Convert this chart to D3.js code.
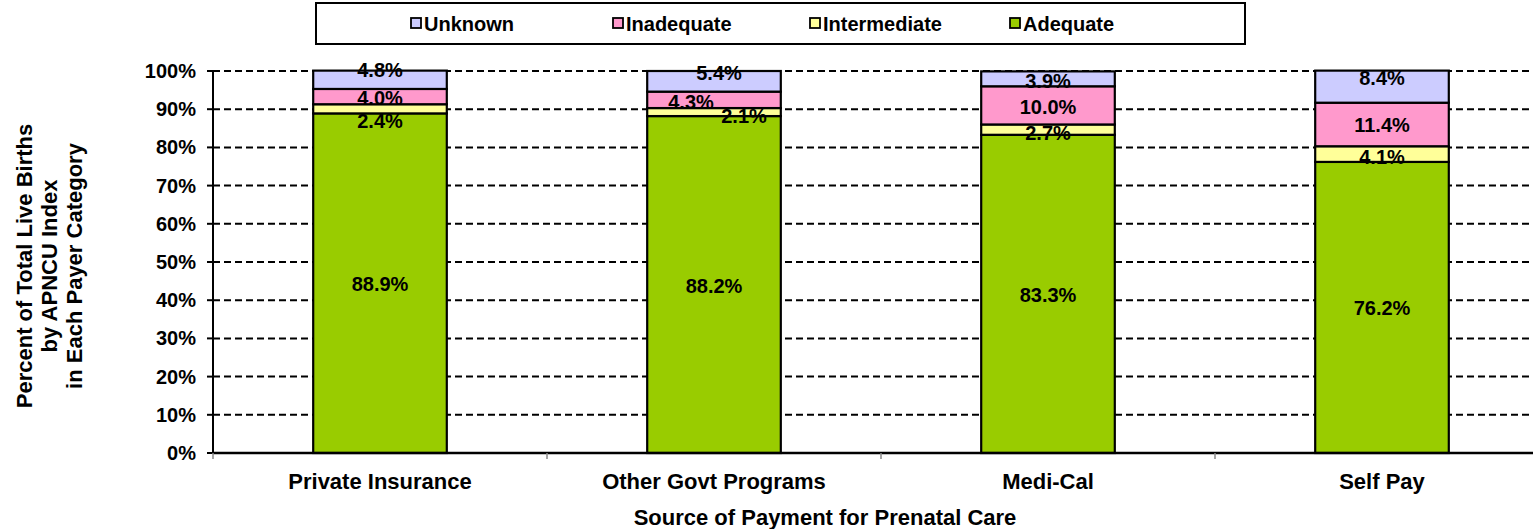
<!DOCTYPE html>
<html>
<head>
<meta charset="utf-8">
<script src="https://cdn.jsdelivr.net/npm/d3@7"></script>
<style>
  html, body { margin: 0; padding: 0; background: #fff; }
  svg { display: block; }
  text { font-family: "Liberation Sans", Arial, sans-serif; font-weight: bold; fill: #000; }
</style>
</head>
<body>
<svg id="chart" width="1533" height="529"></svg>
<script>
// ---- Data ----
const categories = ["Private Insurance", "Other Govt Programs", "Medi-Cal", "Self Pay"];
const seriesNames = ["Adequate", "Intermediate", "Inadequate", "Unknown"];
const adequate = [88.9, 88.2, 83.3, 76.2];
const intermediate = [2.4, 2.1, 2.7, 4.1];
const inadequate = [4.0, 4.3, 10.0, 11.4];
const unknown = [4.8, 5.4, 3.9, 8.4];
const yTicks = [0, 10, 20, 30, 40, 50, 60, 70, 80, 90, 100];
const legendOrder = ["Unknown", "Inadequate", "Intermediate", "Adequate"];
const yTitleLines = ["Percent of Total Live Births", "by APNCU Index", "in Each Payer Category"];
const xTitle = "Source of Payment for Prenatal Care";

// ---- Styling / layout ----
const colors = { Adequate: "#99CC00", Intermediate: "#FFFF99", Inadequate: "#FF99CC", Unknown: "#CCCCFF" };
// Excel-style manual label displacement (layout only)
const labelNudge = {
  "Private Insurance|Unknown": [0, -11],
  "Private Insurance|Intermediate": [0, 11],
  "Other Govt Programs|Unknown": [5, -9],
  "Other Govt Programs|Inadequate": [-23, 1],
  "Other Govt Programs|Intermediate": [30, 3],
  "Medi-Cal|Unknown": [0, 1],
  "Medi-Cal|Inadequate": [0, 1],
  "Medi-Cal|Intermediate": [0, 2],
  "Self Pay|Unknown": [0, -10],
  "Self Pay|Intermediate": [0, 2]
};

const W = 1533, H = 529;
const plotLeft = 213, plotRight = 1549, plotTop = 71, plotBottom = 453;

const svg = d3.select("#chart");

const valuesBySeries = { Adequate: adequate, Intermediate: intermediate, Inadequate: inadequate, Unknown: unknown };
const rows = categories.map((c, i) => {
  const r = { category: c };
  seriesNames.forEach(s => r[s] = valuesBySeries[s][i]);
  return r;
});

const x = d3.scaleBand().domain(categories).range([plotLeft, plotRight]).paddingInner(0.6).paddingOuter(0.3);
const y = d3.scaleLinear().domain([0, 100]).range([plotBottom, plotTop]);
const step = x.step();

// Gridlines (dashed)
svg.append("g").selectAll("line").data(yTicks.filter(t => t > 0)).join("line")
  .attr("x1", plotLeft).attr("x2", W)
  .attr("y1", d => y(d)).attr("y2", d => y(d))
  .attr("stroke", "#000").attr("stroke-width", 2).attr("stroke-dasharray", "7,4");

// Stacked bars
const stack = d3.stack().keys(seriesNames)(rows);
const bars = svg.append("g");
stack.forEach(layer => {
  bars.append("g").selectAll("rect").data(layer).join("rect")
    .attr("x", d => x(d.data.category))
    .attr("width", x.bandwidth())
    .attr("y", d => y(d[1]))
    .attr("height", d => y(d[0]) - y(d[1]))
    .attr("fill", colors[layer.key])
    .attr("stroke", "#000").attr("stroke-width", 2.2);
});

// Y axis
const yAxis = svg.append("g");
yAxis.append("line").attr("x1", plotLeft).attr("x2", plotLeft).attr("y1", plotTop).attr("y2", plotBottom)
  .attr("stroke", "#000").attr("stroke-width", 2);
yAxis.selectAll("line.tick").data(yTicks).join("line").attr("class", "tick")
  .attr("x1", plotLeft - 6).attr("x2", plotLeft).attr("y1", d => y(d)).attr("y2", d => y(d))
  .attr("stroke", "#000").attr("stroke-width", 2);
yAxis.selectAll("text").data(yTicks).join("text")
  .attr("x", 196).attr("y", d => y(d)).attr("dy", "0.35em")
  .attr("text-anchor", "end").style("font-size", "20px")
  .text(d => d + "%");

// X axis
const xAxis = svg.append("g");
xAxis.append("line").attr("x1", plotLeft).attr("x2", W).attr("y1", plotBottom).attr("y2", plotBottom)
  .attr("stroke", "#000").attr("stroke-width", 2.5);
const boundaries = d3.range(categories.length + 1).map(i => plotLeft + i * step);
xAxis.selectAll("line.tick").data(boundaries).join("line").attr("class", "tick")
  .attr("x1", d => d).attr("x2", d => d).attr("y1", plotBottom).attr("y2", plotBottom + 6)
  .attr("stroke", "#888").attr("stroke-width", 1.5);
xAxis.selectAll("text").data(categories).join("text")
  .attr("x", d => x(d) + x.bandwidth() / 2).attr("y", 489)
  .attr("text-anchor", "middle").style("font-size", "22px")
  .text(d => d);

// Data labels
stack.forEach(layer => {
  svg.append("g").selectAll("text").data(layer).join("text")
    .attr("x", d => x(d.data.category) + x.bandwidth() / 2 + (labelNudge[d.data.category + "|" + layer.key] || [0, 0])[0])
    .attr("y", d => (y(d[0]) + y(d[1])) / 2 + 1 + (labelNudge[d.data.category + "|" + layer.key] || [0, 0])[1])
    .attr("dy", "0.35em")
    .attr("text-anchor", "middle").style("font-size", "20px")
    .text(d => d3.format(".1f")(d[1] - d[0]) + "%");
});

// Y title
const yt = svg.append("g").attr("transform", "translate(0,266)");
yTitleLines.forEach((line, i) => {
  yt.append("text").attr("transform", `translate(${32 + i * 25},0) rotate(-90)`)
    .attr("text-anchor", "middle").style("font-size", "22px").text(line);
});

// X title
svg.append("text").attr("x", 825).attr("y", 525).attr("text-anchor", "middle")
  .style("font-size", "22px").text(xTitle);

// Legend
const lg = svg.append("g");
lg.append("rect").attr("x", 316).attr("y", 3).attr("width", 929).attr("height", 41)
  .attr("fill", "#fff").attr("stroke", "#000").attr("stroke-width", 2);
const legendX = [411, 613, 810, 1010];
legendOrder.forEach((s, i) => {
  const g = lg.append("g").attr("transform", `translate(${legendX[i]},0)`);
  g.append("rect").attr("x", 0).attr("y", 18).attr("width", 10).attr("height", 10)
    .attr("fill", colors[s]).attr("stroke", "#000").attr("stroke-width", 1.8);
  g.append("text").attr("x", 13).attr("y", 31).style("font-size", "20px").text(s);
});
</script>
</body>
</html>
